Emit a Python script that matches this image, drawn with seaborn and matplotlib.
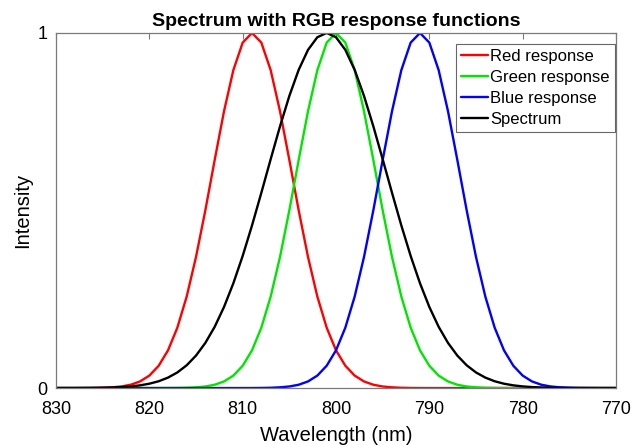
import matplotlib
matplotlib.use("Agg")
import matplotlib.pyplot as plt
import seaborn as sns
import pandas as pd

# === Datos (muestreo cada 1 nm de 770 a 830) ===
wavelength = list(range(770, 831))

red = [0, 0, 0, 0, 0, 0, 0, 0, 0, 0,
       0, 0, 0, 0, 0, 0, 0, 0, 0, 0,
       0, .0001, .0003, .0008, .0020, .0044, .0093, .0186, .0351, .0628,
       .1062, .1701, .2576, .3692, .5006, .6422, .7795, .8952, .9727, 1,
       .9727, .8952, .7795, .6422, .5006, .3692, .2576, .1701, .1062, .0628,
       .0351, .0186, .0093, .0044, .0020, .0008, .0003, .0001, 0, 0,
       0]

green = [0, 0, 0, 0, 0, 0, 0, 0, 0, 0,
         0, 0, .0001, .0003, .0008, .0020, .0044, .0093, .0186, .0351,
         .0628, .1062, .1701, .2576, .3692, .5006, .6422, .7795, .8952, .9727,
         1, .9727, .8952, .7795, .6422, .5006, .3692, .2576, .1701, .1062,
         .0628, .0351, .0186, .0093, .0044, .0020, .0008, .0003, .0001, 0,
         0, 0, 0, 0, 0, 0, 0, 0, 0, 0,
         0]

blue = [0, 0, 0, .0001, .0003, .0008, .0020, .0044, .0093, .0186,
        .0351, .0628, .1062, .1701, .2576, .3692, .5006, .6422, .7795, .8952,
        .9727, 1, .9727, .8952, .7795, .6422, .5006, .3692, .2576, .1701,
        .1062, .0628, .0351, .0186, .0093, .0044, .0020, .0008, .0003, .0001,
        0, 0, 0, 0, 0, 0, 0, 0, 0, 0,
        0, 0, 0, 0, 0, 0, 0, 0, 0, 0,
        0]

spectrum = [0, 0, 0, .0001, .0001, .0003, .0005, .0009, .0016, .0027,
            .0046, .0076, .0122, .0191, .0294, .0439, .0641, .0914, .1271, .1724,
            .2283, .2950, .3720, .4578, .5499, .6444, .7370, .8226, .8960, .9523,
            .9879, 1, .9879, .9523, .8960, .8226, .7370, .6444, .5499, .4578,
            .3720, .2950, .2283, .1724, .1271, .0914, .0641, .0439, .0294, .0191,
            .0122, .0076, .0046, .0027, .0016, .0009, .0005, .0003, .0001, .0001,
            0]

series_names = ["Red response", "Green response", "Blue response", "Spectrum"]
series_colors = ["#ff0000", "#00e600", "#0000ff", "#000000"]

df = pd.concat([
    pd.DataFrame({"wavelength": wavelength, "intensity": vals, "serie": name})
    for name, vals in zip(series_names, [red, green, blue, spectrum])
])

# === Estilo ===
sns.set_style("white")
plt.rcParams["font.family"] = ["Liberation Sans", "DejaVu Sans"]
plt.rcParams["text.color"] = "black"
plt.rcParams["axes.labelcolor"] = "black"

fig = plt.figure(figsize=(6.44, 4.45), dpi=100)
ax = fig.add_axes([0.087, 0.128, 0.8695, 0.798])

sns.lineplot(data=df, x="wavelength", y="intensity", hue="serie",
             palette=dict(zip(series_names, series_colors)),
             linewidth=1.7, ax=ax)

ax.set_xlim(830, 770)
ax.set_ylim(0, 1)
ax.set_xticks([830, 820, 810, 800, 790, 780, 770])
ax.set_yticks([0, 1])
ax.tick_params(direction="in", top=True, right=True, length=4,
               color="#7a7a7a", labelsize=13, labelcolor="black")
ax.tick_params(axis="x", pad=9)
ax.tick_params(axis="y", pad=6)
for s in ax.spines.values():
    s.set_color("#7a7a7a")
    s.set_linewidth(0.9)

ax.set_title("Spectrum with RGB response functions", fontsize=14,
             fontweight="bold", pad=5, color="black")
ax.set_xlabel("Wavelength (nm)", fontsize=14.5, labelpad=6)
ax.set_ylabel("Intensity", fontsize=14.5, labelpad=4)

leg = ax.legend(loc="upper right", bbox_to_anchor=(0.998, 0.969),
                borderaxespad=0, fontsize=12, frameon=True, fancybox=False,
                handlelength=1.6, handletextpad=0.15, borderpad=0.3,
                labelspacing=0.36)
leg.get_frame().set_edgecolor("#404040")
leg.get_frame().set_linewidth(0.8)
for line in leg.get_lines():
    line.set_linewidth(1.7)

fig.savefig("out.png", dpi=100)
plt.close(fig)
